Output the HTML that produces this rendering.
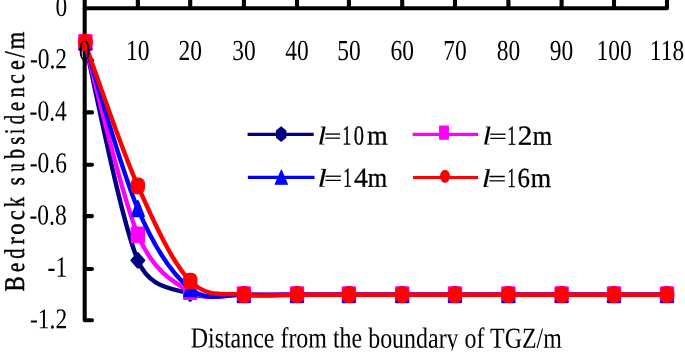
<!DOCTYPE html><html><head><meta charset="utf-8"><title>Bedrock subsidence chart</title><style>html,body{margin:0;padding:0;background:#fff;overflow:hidden}svg{display:block}text{font-family:"Liberation Serif","Times New Roman",serif;fill:#000}</style></head><body>
<svg width="685" height="357" viewBox="0 0 685 357" text-rendering="geometricPrecision">
<rect width="685" height="357" fill="#fff"/>
<g stroke="#000" stroke-width="4.1" stroke-linecap="round" stroke-linejoin="round" fill="none">
<path d="M84.70,-6 L84.70,320.30 L92.00,320.30"/>
<line x1="84.70" y1="60.40" x2="92.00" y2="60.40"/>
<line x1="84.70" y1="112.40" x2="92.00" y2="112.40"/>
<line x1="84.70" y1="164.70" x2="92.00" y2="164.70"/>
<line x1="84.70" y1="216.10" x2="92.00" y2="216.10"/>
<line x1="84.70" y1="269.00" x2="92.00" y2="269.00"/>
<path d="M84.70,8.30 L667.00,8.30 L667.00,-6"/>
<line x1="137.85" y1="-6" x2="137.85" y2="8.30" stroke-linecap="butt"/>
<line x1="190.20" y1="-6" x2="190.20" y2="8.30" stroke-linecap="butt"/>
<line x1="243.90" y1="-6" x2="243.90" y2="8.30" stroke-linecap="butt"/>
<line x1="297.00" y1="-6" x2="297.00" y2="8.30" stroke-linecap="butt"/>
<line x1="348.90" y1="-6" x2="348.90" y2="8.30" stroke-linecap="butt"/>
<line x1="402.20" y1="-6" x2="402.20" y2="8.30" stroke-linecap="butt"/>
<line x1="455.00" y1="-6" x2="455.00" y2="8.30" stroke-linecap="butt"/>
<line x1="508.40" y1="-6" x2="508.40" y2="8.30" stroke-linecap="butt"/>
<line x1="561.60" y1="-6" x2="561.60" y2="8.30" stroke-linecap="butt"/>
<line x1="614.00" y1="-6" x2="614.00" y2="8.30" stroke-linecap="butt"/>
</g>
<path d="M84.70,42.30 C93.56,78.65 120.27,218.48 137.85,260.40 C149.86,289.03 172.52,288.08 190.20,293.80 C207.88,299.52 226.10,294.55 243.90,294.70 C261.70,294.85 279.50,294.70 297.00,294.70 C314.50,294.70 331.37,294.70 348.90,294.70 C366.43,294.70 384.52,294.70 402.20,294.70 C419.88,294.70 437.30,294.70 455.00,294.70 C472.70,294.70 490.63,294.70 508.40,294.70 C526.17,294.70 544.00,294.70 561.60,294.70 C579.20,294.70 596.43,294.70 614.00,294.70 C631.57,294.70 658.17,294.70 667.00,294.70" fill="none" stroke="#000080" stroke-width="4.40" stroke-linejoin="round" stroke-linecap="round"/>
<polygon points="85.40,35.29 91.56,42.30 85.40,49.31 79.24,42.30" fill="#000080" stroke="#000080" stroke-width="2.40" stroke-linejoin="round"/>
<polygon points="137.85,253.39 144.01,260.40 137.85,267.41 131.69,260.40" fill="#000080" stroke="#000080" stroke-width="2.40" stroke-linejoin="round"/>
<polygon points="190.20,286.79 196.36,293.80 190.20,300.81 184.04,293.80" fill="#000080" stroke="#000080" stroke-width="2.40" stroke-linejoin="round"/>
<polygon points="243.90,287.69 250.06,294.70 243.90,301.71 237.74,294.70" fill="#000080" stroke="#000080" stroke-width="2.40" stroke-linejoin="round"/>
<polygon points="297.00,287.69 303.16,294.70 297.00,301.71 290.84,294.70" fill="#000080" stroke="#000080" stroke-width="2.40" stroke-linejoin="round"/>
<polygon points="348.90,287.69 355.06,294.70 348.90,301.71 342.74,294.70" fill="#000080" stroke="#000080" stroke-width="2.40" stroke-linejoin="round"/>
<polygon points="402.20,287.69 408.36,294.70 402.20,301.71 396.04,294.70" fill="#000080" stroke="#000080" stroke-width="2.40" stroke-linejoin="round"/>
<polygon points="455.00,287.69 461.16,294.70 455.00,301.71 448.84,294.70" fill="#000080" stroke="#000080" stroke-width="2.40" stroke-linejoin="round"/>
<polygon points="508.40,287.69 514.56,294.70 508.40,301.71 502.24,294.70" fill="#000080" stroke="#000080" stroke-width="2.40" stroke-linejoin="round"/>
<polygon points="561.60,287.69 567.76,294.70 561.60,301.71 555.44,294.70" fill="#000080" stroke="#000080" stroke-width="2.40" stroke-linejoin="round"/>
<polygon points="614.00,287.69 620.16,294.70 614.00,301.71 607.84,294.70" fill="#000080" stroke="#000080" stroke-width="2.40" stroke-linejoin="round"/>
<polygon points="667.00,287.69 673.16,294.70 667.00,301.71 660.84,294.70" fill="#000080" stroke="#000080" stroke-width="2.40" stroke-linejoin="round"/>
<path d="M84.70,42.30 C93.56,74.38 120.27,193.23 137.85,234.80 C152.91,270.40 172.52,281.72 190.20,291.70 C207.88,301.68 226.10,294.20 243.90,294.70 C261.70,295.20 279.50,294.70 297.00,294.70 C314.50,294.70 331.37,294.70 348.90,294.70 C366.43,294.70 384.52,294.70 402.20,294.70 C419.88,294.70 437.30,294.70 455.00,294.70 C472.70,294.70 490.63,294.70 508.40,294.70 C526.17,294.70 544.00,294.70 561.60,294.70 C579.20,294.70 596.43,294.70 614.00,294.70 C631.57,294.70 658.17,294.70 667.00,294.70" fill="none" stroke="#FF00FF" stroke-width="4.40" stroke-linejoin="round" stroke-linecap="round"/>
<rect x="78.20" y="33.95" width="14.40" height="16.70" rx="1.20" fill="#FF00FF"/>
<rect x="130.65" y="226.45" width="14.40" height="16.70" rx="1.20" fill="#FF00FF"/>
<rect x="183.00" y="283.35" width="14.40" height="16.70" rx="1.20" fill="#FF00FF"/>
<rect x="236.70" y="286.35" width="14.40" height="16.70" rx="1.20" fill="#FF00FF"/>
<rect x="289.80" y="286.35" width="14.40" height="16.70" rx="1.20" fill="#FF00FF"/>
<rect x="341.70" y="286.35" width="14.40" height="16.70" rx="1.20" fill="#FF00FF"/>
<rect x="395.00" y="286.35" width="14.40" height="16.70" rx="1.20" fill="#FF00FF"/>
<rect x="447.80" y="286.35" width="14.40" height="16.70" rx="1.20" fill="#FF00FF"/>
<rect x="501.20" y="286.35" width="14.40" height="16.70" rx="1.20" fill="#FF00FF"/>
<rect x="554.40" y="286.35" width="14.40" height="16.70" rx="1.20" fill="#FF00FF"/>
<rect x="606.80" y="286.35" width="14.40" height="16.70" rx="1.20" fill="#FF00FF"/>
<rect x="659.80" y="286.35" width="14.40" height="16.70" rx="1.20" fill="#FF00FF"/>
<path d="M84.70,42.00 C93.56,69.82 120.27,167.77 137.85,208.90 C155.43,250.03 172.52,274.50 190.20,288.80 C207.88,303.10 226.10,293.72 243.90,294.70 C261.70,295.68 279.50,294.70 297.00,294.70 C314.50,294.70 331.37,294.70 348.90,294.70 C366.43,294.70 384.52,294.70 402.20,294.70 C419.88,294.70 437.30,294.70 455.00,294.70 C472.70,294.70 490.63,294.70 508.40,294.70 C526.17,294.70 544.00,294.70 561.60,294.70 C579.20,294.70 596.43,294.70 614.00,294.70 C631.57,294.70 658.17,294.70 667.00,294.70" fill="none" stroke="#0000FF" stroke-width="4.40" stroke-linejoin="round" stroke-linecap="round"/>
<polygon points="85.40,34.43 91.28,49.27 79.52,49.27" fill="#0000FF" stroke="#0000FF" stroke-width="2.40" stroke-linejoin="round"/>
<polygon points="137.85,201.33 143.73,216.17 131.97,216.17" fill="#0000FF" stroke="#0000FF" stroke-width="2.40" stroke-linejoin="round"/>
<polygon points="190.20,281.23 196.08,296.07 184.32,296.07" fill="#0000FF" stroke="#0000FF" stroke-width="2.40" stroke-linejoin="round"/>
<polygon points="243.90,287.13 249.78,301.97 238.02,301.97" fill="#0000FF" stroke="#0000FF" stroke-width="2.40" stroke-linejoin="round"/>
<polygon points="297.00,287.13 302.88,301.97 291.12,301.97" fill="#0000FF" stroke="#0000FF" stroke-width="2.40" stroke-linejoin="round"/>
<polygon points="348.90,287.13 354.78,301.97 343.02,301.97" fill="#0000FF" stroke="#0000FF" stroke-width="2.40" stroke-linejoin="round"/>
<polygon points="402.20,287.13 408.08,301.97 396.32,301.97" fill="#0000FF" stroke="#0000FF" stroke-width="2.40" stroke-linejoin="round"/>
<polygon points="455.00,287.13 460.88,301.97 449.12,301.97" fill="#0000FF" stroke="#0000FF" stroke-width="2.40" stroke-linejoin="round"/>
<polygon points="508.40,287.13 514.28,301.97 502.52,301.97" fill="#0000FF" stroke="#0000FF" stroke-width="2.40" stroke-linejoin="round"/>
<polygon points="561.60,287.13 567.48,301.97 555.72,301.97" fill="#0000FF" stroke="#0000FF" stroke-width="2.40" stroke-linejoin="round"/>
<polygon points="614.00,287.13 619.88,301.97 608.12,301.97" fill="#0000FF" stroke="#0000FF" stroke-width="2.40" stroke-linejoin="round"/>
<polygon points="667.00,287.13 672.88,301.97 661.12,301.97" fill="#0000FF" stroke="#0000FF" stroke-width="2.40" stroke-linejoin="round"/>
<path d="M84.70,42.40 C93.56,66.32 120.27,146.13 137.85,185.90 C155.43,225.67 172.52,262.87 190.20,281.00 C207.88,299.13 226.10,292.42 243.90,294.70 C261.70,296.98 279.50,294.70 297.00,294.70 C314.50,294.70 331.37,294.70 348.90,294.70 C366.43,294.70 384.52,294.70 402.20,294.70 C419.88,294.70 437.30,294.70 455.00,294.70 C472.70,294.70 490.63,294.70 508.40,294.70 C526.17,294.70 544.00,294.70 561.60,294.70 C579.20,294.70 596.43,294.70 614.00,294.70 C631.57,294.70 658.17,294.70 667.00,294.70" fill="none" stroke="#FF0000" stroke-width="4.40" stroke-linejoin="round" stroke-linecap="round"/>
<rect x="78.20" y="34.05" width="14.40" height="16.70" rx="5.76" ry="6.68" fill="#FF0000"/>
<rect x="130.65" y="177.55" width="14.40" height="16.70" rx="5.76" ry="6.68" fill="#FF0000"/>
<rect x="183.00" y="272.65" width="14.40" height="16.70" rx="5.76" ry="6.68" fill="#FF0000"/>
<rect x="236.70" y="286.35" width="14.40" height="16.70" rx="5.76" ry="6.68" fill="#FF0000"/>
<rect x="289.80" y="286.35" width="14.40" height="16.70" rx="5.76" ry="6.68" fill="#FF0000"/>
<rect x="341.70" y="286.35" width="14.40" height="16.70" rx="5.76" ry="6.68" fill="#FF0000"/>
<rect x="395.00" y="286.35" width="14.40" height="16.70" rx="5.76" ry="6.68" fill="#FF0000"/>
<rect x="447.80" y="286.35" width="14.40" height="16.70" rx="5.76" ry="6.68" fill="#FF0000"/>
<rect x="501.20" y="286.35" width="14.40" height="16.70" rx="5.76" ry="6.68" fill="#FF0000"/>
<rect x="554.40" y="286.35" width="14.40" height="16.70" rx="5.76" ry="6.68" fill="#FF0000"/>
<rect x="606.80" y="286.35" width="14.40" height="16.70" rx="5.76" ry="6.68" fill="#FF0000"/>
<rect x="659.80" y="286.35" width="14.40" height="16.70" rx="5.76" ry="6.68" fill="#FF0000"/>
<text transform="translate(67.20,16.00) skewY(0.06) scale(1,1.235)" font-size="23.50" text-anchor="end">0</text>
<text transform="translate(67.10,68.31) skewY(0.06) scale(1,1.232)" font-size="23.50" text-anchor="end">-0.2</text>
<text transform="translate(66.80,120.55) skewY(0.06) scale(1,1.238)" font-size="23.50" text-anchor="end">-0.4</text>
<text transform="translate(66.90,172.40) skewY(0.06) scale(1,1.235)" font-size="23.50" text-anchor="end">-0.6</text>
<text transform="translate(66.70,224.50) skewY(0.06) scale(1,1.235)" font-size="23.50" text-anchor="end">-0.8</text>
<text transform="translate(67.20,276.70) skewY(0.06) scale(1,1.257)" font-size="23.50" text-anchor="end">-1</text>
<text transform="translate(67.20,328.20) skewY(0.06) scale(1,1.215)" font-size="23.50" text-anchor="end">-1.2</text>
<text transform="translate(84.70,59.95) skewY(0.06) scale(1,1.235)" font-size="23.50" text-anchor="middle">0</text>
<text transform="translate(137.85,59.95) skewY(0.06) scale(1,1.235)" font-size="23.50" text-anchor="middle">10</text>
<text transform="translate(190.20,59.95) skewY(0.06) scale(1,1.235)" font-size="23.50" text-anchor="middle">20</text>
<text transform="translate(243.90,59.95) skewY(0.06) scale(1,1.235)" font-size="23.50" text-anchor="middle">30</text>
<text transform="translate(297.00,59.95) skewY(0.06) scale(1,1.235)" font-size="23.50" text-anchor="middle">40</text>
<text transform="translate(348.90,59.95) skewY(0.06) scale(1,1.235)" font-size="23.50" text-anchor="middle">50</text>
<text transform="translate(402.20,59.95) skewY(0.06) scale(1,1.235)" font-size="23.50" text-anchor="middle">60</text>
<text transform="translate(455.00,59.95) skewY(0.06) scale(1,1.235)" font-size="23.50" text-anchor="middle">70</text>
<text transform="translate(508.40,59.95) skewY(0.06) scale(1,1.235)" font-size="23.50" text-anchor="middle">80</text>
<text transform="translate(561.60,59.95) skewY(0.06) scale(1,1.235)" font-size="23.50" text-anchor="middle">90</text>
<text transform="translate(614.00,59.95) skewY(0.06) scale(1,1.235)" font-size="23.50" text-anchor="middle">100</text>
<text transform="translate(667.00,59.95) skewY(0.06) scale(1,1.235)" font-size="23.50" text-anchor="middle">118</text>
<clipPath id="xtc"><rect x="0" y="300" width="685" height="50.4"/></clipPath>
<g clip-path="url(#xtc)"><text transform="translate(190.7,347.45) skewY(0.06) scale(1,1.214)" font-size="23.95">Distance from the boundary of TGZ/m</text></g>
<text transform="translate(24.0,292.00) rotate(-90) skewX(0.06)" font-size="28.90" stroke="#000" stroke-width="0.50"><tspan x="0.44" font-size="28.60" textLength="15.28" lengthAdjust="spacingAndGlyphs">B</tspan><tspan x="20.09" font-size="26.60" textLength="9.23" lengthAdjust="spacingAndGlyphs">e</tspan><tspan x="33.26" font-size="28.60" textLength="10.18" lengthAdjust="spacingAndGlyphs">d</tspan><tspan x="47.57" font-size="26.60" textLength="7.23" lengthAdjust="spacingAndGlyphs">r</tspan><tspan x="57.14" font-size="26.60" textLength="11.33" lengthAdjust="spacingAndGlyphs">o</tspan><tspan x="71.64" font-size="26.60" textLength="10.06" lengthAdjust="spacingAndGlyphs">c</tspan><tspan x="85.12" font-size="28.60" textLength="9.98" lengthAdjust="spacingAndGlyphs">k</tspan><tspan> </tspan><tspan x="106.65" font-size="26.60" textLength="8.11" lengthAdjust="spacingAndGlyphs">s</tspan><tspan x="120.49" font-size="26.60" textLength="7.98" lengthAdjust="spacingAndGlyphs">u</tspan><tspan x="133.30" font-size="28.60" textLength="9.74" lengthAdjust="spacingAndGlyphs">b</tspan><tspan x="147.26" font-size="26.60" textLength="7.98" lengthAdjust="spacingAndGlyphs">s</tspan><tspan x="158.34" font-size="28.60" textLength="4.79" lengthAdjust="spacingAndGlyphs">i</tspan><tspan x="167.84" font-size="28.60" textLength="9.19" lengthAdjust="spacingAndGlyphs">d</tspan><tspan x="181.10" font-size="26.60" textLength="9.11" lengthAdjust="spacingAndGlyphs">e</tspan><tspan x="194.84" font-size="26.60" textLength="9.96" lengthAdjust="spacingAndGlyphs">n</tspan><tspan x="208.18" font-size="26.60" textLength="9.59" lengthAdjust="spacingAndGlyphs">c</tspan><tspan x="221.95" font-size="26.60" textLength="9.71" lengthAdjust="spacingAndGlyphs">e</tspan><tspan x="234.60" font-size="28.60" textLength="6.20" lengthAdjust="spacingAndGlyphs">/</tspan><tspan x="242.83" font-size="26.60" textLength="17.53" lengthAdjust="spacingAndGlyphs">m</tspan></text>
<line x1="247.60" y1="134.40" x2="313.70" y2="134.40" stroke="#000080" stroke-width="3.1"/>
<polygon points="281.15,126.25 286.35,130.59 286.35,137.71 281.15,142.05 275.95,137.71 275.95,130.59" fill="#000080"/>
<text transform="translate(0,144.20) skewY(0.06) scale(1,1.080)" font-size="25.50" stroke="#000" stroke-width="0.3"><tspan x="317.47" font-size="23.8" stroke-width="0.1" textLength="8.77" lengthAdjust="spacingAndGlyphs" font-style="italic">l</tspan><tspan x="324.25" dy="-1.38" font-size="19.40" textLength="16.97" lengthAdjust="spacingAndGlyphs">=</tspan><tspan x="342.35" dy="1.38" textLength="9.09" lengthAdjust="spacingAndGlyphs">1</tspan><tspan x="353.87" textLength="10.26" lengthAdjust="spacingAndGlyphs">0</tspan><tspan x="367.09" textLength="20.67" lengthAdjust="spacingAndGlyphs">m</tspan></text>
<line x1="412.60" y1="134.40" x2="478.10" y2="134.40" stroke="#FF00FF" stroke-width="3.1"/>
<rect x="439.05" y="125.50" width="9.90" height="14.20" rx="0.60" fill="#FF00FF"/>
<text transform="translate(0,144.10) skewY(0.06) scale(1,1.080)" font-size="25.50" stroke="#000" stroke-width="0.3"><tspan x="482.40" font-size="23.8" stroke-width="0.1" textLength="8.64" lengthAdjust="spacingAndGlyphs" font-style="italic">l</tspan><tspan x="488.99" dy="-1.38" font-size="19.40" textLength="17.69" lengthAdjust="spacingAndGlyphs">=</tspan><tspan x="507.28" dy="1.38" textLength="8.95" lengthAdjust="spacingAndGlyphs">1</tspan><tspan x="517.87" textLength="14.59" lengthAdjust="spacingAndGlyphs">2</tspan><tspan x="532.63" textLength="19.31" lengthAdjust="spacingAndGlyphs">m</tspan></text>
<line x1="247.90" y1="177.40" x2="314.50" y2="177.40" stroke="#0000FF" stroke-width="3.1"/>
<polygon points="281.35,170.14 287.39,184.26 275.31,184.26" fill="#0000FF" stroke="#0000FF" stroke-width="1.20" stroke-linejoin="round"/>
<text transform="translate(0,186.40) skewY(0.06) scale(1,1.080)" font-size="25.50" stroke="#000" stroke-width="0.3"><tspan x="317.46" font-size="23.8" stroke-width="0.1" textLength="9.32" lengthAdjust="spacingAndGlyphs" font-style="italic">l</tspan><tspan x="324.38" dy="-1.38" font-size="19.40" textLength="17.82" lengthAdjust="spacingAndGlyphs">=</tspan><tspan x="343.35" dy="1.38" textLength="8.52" lengthAdjust="spacingAndGlyphs">1</tspan><tspan x="354.01" textLength="13.88" lengthAdjust="spacingAndGlyphs">4</tspan><tspan x="367.73" textLength="19.41" lengthAdjust="spacingAndGlyphs">m</tspan></text>
<line x1="413.10" y1="177.50" x2="478.10" y2="177.50" stroke="#FF0000" stroke-width="3.1"/>
<ellipse cx="445.00" cy="176.30" rx="4.95" ry="6.50" fill="#FF0000"/>
<text transform="translate(0,186.40) skewY(0.06) scale(1,1.080)" font-size="25.50" stroke="#000" stroke-width="0.3"><tspan x="481.84" font-size="23.8" stroke-width="0.1" textLength="8.91" lengthAdjust="spacingAndGlyphs" font-style="italic">l</tspan><tspan x="488.38" dy="-1.38" font-size="19.40" textLength="17.82" lengthAdjust="spacingAndGlyphs">=</tspan><tspan x="507.43" dy="1.38" textLength="8.10" lengthAdjust="spacingAndGlyphs">1</tspan><tspan x="517.48" textLength="12.41" lengthAdjust="spacingAndGlyphs">6</tspan><tspan x="530.80" textLength="20.36" lengthAdjust="spacingAndGlyphs">m</tspan></text>
</svg></body></html>
